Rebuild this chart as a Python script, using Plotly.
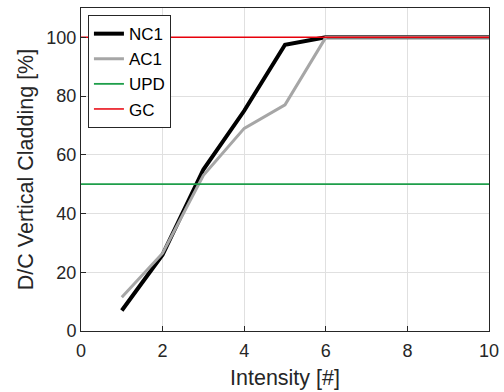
import plotly.graph_objects as go

x_vals = [1, 2, 3, 4, 5, 6, 7, 8, 9, 10]
nc1 = [7, 26, 55, 75, 97.5, 100, 100, 100, 100, 100]
ac1 = [11.5, 26.5, 53, 69, 77, 100, 100, 100, 100, 100]
upd_level = 50
gc_level = 100
x_ticks = [0, 2, 4, 6, 8, 10]
y_ticks = [0, 20, 40, 60, 80, 100]

fig = go.Figure()
fig.add_trace(go.Scatter(x=x_vals, y=nc1, mode="lines", name="NC1",
                         line=dict(color="black", width=4)))
fig.add_trace(go.Scatter(x=x_vals, y=ac1, mode="lines", name="AC1",
                         line=dict(color="#a6a6a6", width=3)))
fig.add_trace(go.Scatter(x=[0, 10], y=[upd_level, upd_level], mode="lines", name="UPD",
                         line=dict(color="#1e9e4a", width=1.8)))
fig.add_trace(go.Scatter(x=[0, 10], y=[gc_level, gc_level], mode="lines", name="GC",
                         line=dict(color="#e8000b", width=1.5)))

font = "Liberation Sans, Arial, sans-serif"
fig.update_layout(
    width=504, height=392,
    margin=dict(l=81, r=15, t=8, b=61),
    plot_bgcolor="white", paper_bgcolor="white",
    font=dict(family=font, size=18, color="#262626"),
    showlegend=True,
    legend=dict(x=0.017, y=0.978, xanchor="left", yanchor="top",
                bgcolor="white", bordercolor="#262626", borderwidth=1,
                font=dict(size=17, color="black"), tracegroupgap=0,
                itemwidth=30),
    xaxis=dict(range=[0, 10], tickvals=x_ticks, showgrid=True, gridcolor="#e0e0e0",
               showline=True, linecolor="#262626", linewidth=1, mirror=True,
               ticks="inside", ticklen=5, tickcolor="#262626", zeroline=False,
               ticklabelstandoff=3, automargin=False,
               title=dict(text="Intensity [#]", font=dict(size=21.5), standoff=10)),
    yaxis=dict(range=[0, 110], tickvals=y_ticks, showgrid=True, gridcolor="#e0e0e0",
               showline=True, linecolor="#262626", linewidth=1, mirror=True,
               ticks="inside", ticklen=5, tickcolor="#262626", zeroline=False,
               automargin=False,
               title=dict(text="D/C Vertical Cladding [%]", font=dict(size=21.5), standoff=6)),
)
fig.write_html("out.html")
